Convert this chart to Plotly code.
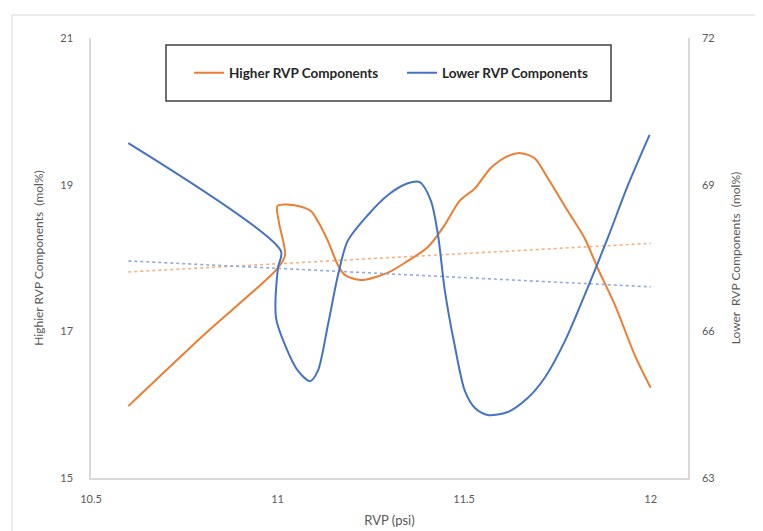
import plotly.graph_objects as go

# ---- data ----
higher_rvp_x = [10.60, 10.80, 11.00, 11.02, 11.004, 11.00, 11.055, 11.089, 11.108, 11.135,
                11.162, 11.18, 11.223, 11.296, 11.349, 11.403, 11.448, 11.488, 11.529, 11.572,
                11.617, 11.652, 11.689, 11.724, 11.778, 11.823, 11.858, 11.904, 11.957, 12.00]
higher_rvp_y = [15.98, 16.94, 17.86, 18.04, 18.48, 18.71, 18.71, 18.64, 18.50, 18.23,
                17.90, 17.77, 17.70, 17.80, 17.96, 18.15, 18.45, 18.78, 18.95, 19.23,
                19.39, 19.43, 19.36, 19.09, 18.64, 18.27, 17.86, 17.36, 16.68, 16.23]

lower_rvp_x = [10.60, 11.009, 11.001, 10.996, 11.02, 11.055, 11.087, 11.108, 11.135, 11.162,
               11.188, 11.242, 11.296, 11.349, 11.381, 11.411, 11.43, 11.448, 11.475, 11.502,
               11.529, 11.563, 11.617, 11.671, 11.716, 11.77, 11.831, 11.885, 11.939, 11.997]
lower_rvp_y = [69.85, 67.64, 67.30, 66.27, 65.72, 65.19, 64.98, 65.19, 66.13, 67.15,
               67.85, 68.38, 68.79, 69.03, 69.05, 68.67, 67.97, 66.85, 65.70, 64.78,
               64.43, 64.29, 64.35, 64.64, 65.05, 65.80, 66.89, 67.91, 68.99, 70.02]

trend_x = [10.6, 12.0]
higher_trend_y = [17.81, 18.20]
lower_trend_y = [67.44, 66.91]

x_ticks = [10.5, 11, 11.5, 12]
left_ticks = [15, 17, 19, 21]
right_ticks = [63, 66, 69, 72]

ORANGE = "#ED7D31"
BLUE = "#4472C4"
GRAY_TXT = "#595959"
AXIS = "#D9D9D9"
FONT = "Lato"

fig = go.Figure()

fig.add_trace(go.Scatter(x=trend_x, y=higher_trend_y, mode="lines", showlegend=False,
                         line=dict(color="#F4B183", width=1.6, dash="dot"), yaxis="y"))
fig.add_trace(go.Scatter(x=trend_x, y=lower_trend_y, mode="lines", showlegend=False,
                         line=dict(color="#8FAADC", width=1.6, dash="dot"), yaxis="y2"))

fig.add_trace(go.Scatter(x=higher_rvp_x, y=higher_rvp_y, mode="lines",
                         name="Higher RVP Components",
                         line=dict(color=ORANGE, width=2, shape="spline", smoothing=0.8),
                         yaxis="y"))
fig.add_trace(go.Scatter(x=lower_rvp_x, y=lower_rvp_y, mode="lines",
                         name="Lower RVP Components",
                         line=dict(color=BLUE, width=2, shape="spline", smoothing=0.8),
                         yaxis="y2"))

# plot area: x 83..680 px, y 30..470 px
L, R, T, B = 83, 763 - 680, 30, 531 - 470
PW, PH = 680 - 83, 470 - 30

def px(xp):
    return (xp - 83) / PW

def py(yp):
    return (470 - yp) / PH

fig.update_layout(
    width=763, height=531,
    margin=dict(l=L, r=R, t=T, b=B, autoexpand=False),
    paper_bgcolor="white", plot_bgcolor="white",
    font=dict(family=FONT, color=GRAY_TXT, size=11),
    xaxis=dict(range=[10.5, 12.1], tickvals=x_ticks, ticktext=["10.5", "11", "11.5", "12"],
               showgrid=False, zeroline=False, showline=True, linecolor=AXIS, linewidth=1.5,
               ticks="outside", ticklen=10, tickcolor="rgba(0,0,0,0)",
               tickfont=dict(size=11, color=GRAY_TXT),
               title=dict(text="RVP (psi)", font=dict(size=13, color=GRAY_TXT), standoff=12)),
    yaxis=dict(range=[15, 21], tickvals=left_ticks, showgrid=False, zeroline=False,
               showline=True, linecolor=AXIS, linewidth=1.5,
               ticks="outside", ticklen=14, tickcolor="rgba(0,0,0,0)",
               tickfont=dict(size=11, color=GRAY_TXT),
               title=dict(text="Highier RVP Components  (mol%)",
                          font=dict(size=12, color=GRAY_TXT), standoff=14)),
    yaxis2=dict(range=[63, 72], tickvals=right_ticks, overlaying="y", side="right",
                showgrid=False, zeroline=False, showline=True, linecolor=AXIS, linewidth=1.5,
                ticks="outside", ticklen=10, tickcolor="rgba(0,0,0,0)",
                tickfont=dict(size=11, color=GRAY_TXT),
                title=dict(text="Lower  RVP Components  (mol%)",
                           font=dict(size=12, color=GRAY_TXT), standoff=18)),
    legend=dict(orientation="h", x=px(181), xanchor="left", y=py(65), yanchor="middle",
                bgcolor="rgba(0,0,0,0)", borderwidth=0,
                entrywidth=168, entrywidthmode="pixels",
                font=dict(family=FONT, size=13.5, color="#262626", weight="bold")),
    shapes=[
        dict(type="rect", xref="paper", yref="paper",
             x0=px(158), x1=px(603), y0=py(93), y1=py(37),
             line=dict(color="#404040", width=1.5), fillcolor="rgba(0,0,0,0)", layer="above"),
        dict(type="rect", xref="paper", yref="paper",
             x0=px(4), x1=px(800), y0=py(560), y1=py(7),
             line=dict(color="#D9D9D9", width=1), fillcolor="rgba(0,0,0,0)", layer="below"),
    ],
)

fig.write_html("out.html")
